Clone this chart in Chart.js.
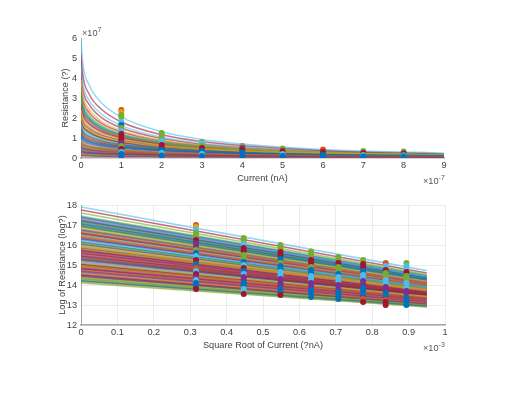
<!DOCTYPE html>
<html><head><meta charset="utf-8">
<style>
html,body{margin:0;padding:0;background:#fff;width:512px;height:395px;overflow:hidden}
canvas{position:absolute;left:0;filter:blur(0.35px)}
.e{position:absolute;font:9.2px "Liberation Sans",Arial,sans-serif;color:#555;white-space:nowrap;line-height:10px}
.e sup{font-size:7px;position:relative;top:-4px;vertical-align:baseline}
</style>
<script src="https://cdn.jsdelivr.net/npm/chart.js@4"></script>
</head><body>
<canvas id="a" width="512" height="184" style="top:0"></canvas>
<canvas id="b" width="512" height="161" style="top:190px"></canvas>
<div class="e" style="left:82px;top:28px">×10<sup>7</sup></div>
<div class="e" style="left:423px;top:176px">×10<sup>-7</sup></div>
<div class="e" style="left:423px;top:343px">×10<sup>-3</sup></div>
<script>
const seriesColors=['#0072BD','#D95319','#D9A520','#7E2F8E','#77AC30','#4DBEEE','#A2142F'];
const currentTicks=[0,1,2,3,4,5,6,7,8,9];
const sqrtTicks=[0,0.1,0.2,0.3,0.4,0.5,0.6,0.7,0.8,0.9,1];
const currentKnots=[0,0.05,0.2,0.5,1,2,3,4,6,9];
const sqrtEnds=[0,0.95];
const resistanceCurves=[
[1.25,1.06,.88,.72,.57,.4,.3,.24,.17,.12],[.8,.69,.59,.49,.39,.29,.22,.18,.13,.1],[2.4,1.95,1.58,1.24,.95,.64,.47,.36,.24,.15],
[.34,.3,.26,.22,.19,.15,.12,.1,.08,.06],[3.4,2.72,2.15,1.64,1.22,.8,.58,.44,.28,.17],[5.9,4.65,3.66,2.77,2.04,1.31,.93,.7,.43,.24],
[5.2,4.1,3.2,2.45,1.8,1.16,.82,.62,.38,.21],[1.55,1.3,1.08,.87,.68,.47,.35,.28,.19,.13],[.62,.54,.46,.38,.31,.23,.18,.15,.11,.08],
[3.9,3.1,2.44,1.85,1.37,.89,.64,.48,.3,.18],[.14,.13,.12,.1,.09,.08,.07,.06,.05,.04],[3,2.42,1.93,1.48,1.12,.74,.54,.41,.26,.16],
[4.7,3.7,2.9,2.2,1.62,1.04,.74,.56,.34,.2],[4.3,3.4,2.68,2.03,1.5,.97,.69,.52,.32,.19],[1.12,.95,.8,.65,.52,.37,.28,.22,.16,.11],
[.46,.4,.35,.3,.25,.19,.15,.12,.09,.07],[2.1,1.72,1.4,1.1,.85,.58,.43,.33,.22,.14],[2.7,2.18,1.75,1.35,1.02,.68,.5,.38,.25,.16],
[.23,.2,.18,.16,.14,.11,.09,.08,.065,.05],[.9,.77,.65,.54,.43,.31,.24,.19,.14,.1],[1.9,1.56,1.28,1.01,.78,.54,.4,.31,.21,.13],
[.54,.47,.41,.34,.28,.21,.16,.13,.1,.075],[1.4,1.18,.98,.79,.62,.43,.33,.26,.18,.12],[.18,.16,.15,.13,.12,.095,.08,.07,.06,.045],
[1,.85,.72,.59,.47,.34,.26,.21,.15,.11],[.7,.6,.52,.43,.35,.26,.2,.16,.12,.09],[1.7,1.41,1.17,.93,.72,.5,.37,.29,.2,.13],
[.28,.25,.22,.19,.16,.13,.1,.09,.07,.055],[.4,.35,.31,.26,.22,.17,.13,.11,.085,.065],[1.32,1.1,.92,.75,.6,.42,.31,.25,.18,.12],
[.95,.8,.68,.56,.45,.33,.25,.2,.145,.1],[.58,.5,.43,.36,.3,.22,.17,.14,.105,.08],[.2,.18,.16,.14,.125,.1,.085,.075,.06,.05],
[1.05,.9,.76,.62,.5,.36,.27,.22,.155,.11],[.75,.65,.55,.46,.37,.27,.21,.17,.125,.09],[.37,.32,.28,.24,.2,.16,.125,.105,.08,.06],
[1.48,1.24,1.03,.83,.65,.45,.34,.27,.185,.125],[.85,.73,.62,.51,.41,.3,.23,.185,.135,.1],[.5,.44,.38,.32,.265,.2,.155,.125,.095,.07],
[.26,.23,.2,.175,.15,.12,.095,.085,.068,.052],[.66,.57,.49,.41,.33,.245,.19,.155,.115,.085],[.12,.11,.1,.09,.08,.07,.06,.055,.045,.035],
[3.2,2.58,2.05,1.57,1.18,.78,.57,.43,.27,.165],[2.85,2.3,1.85,1.42,1.07,.71,.52,.39,.25,.16],[2.55,2.06,1.66,1.29,.98,.66,.48,.37,.24,.15],
[2.25,1.84,1.5,1.17,.9,.61,.45,.34,.23,.145],[2,1.64,1.34,1.05,.81,.56,.41,.32,.215,.135],[1.8,1.48,1.22,.97,.75,.52,.385,.3,.205,.13],
[3.6,2.88,2.28,1.74,1.3,.85,.61,.46,.29,.17],[2.95,2.38,1.9,1.46,1.1,.73,.53,.4,.26,.16],[2.15,1.76,1.43,1.13,.87,.59,.44,.335,.22,.14],
[1.62,1.35,1.12,.9,.7,.48,.36,.285,.195,.13],[2.6,2.1,1.7,1.32,1,.67,.49,.375,.245,.155],[1.95,1.6,1.31,1.03,.8,.55,.405,.315,.21,.135],
[1.36,1.14,.95,.77,.61,.42,.32,.255,.18,.12],[1.16,.98,.83,.67,.54,.38,.29,.23,.165,.115],[3.05,2.46,1.96,1.5,1.14,.75,.55,.42,.265,.16]
];
const logStart=[17.05,16.75,15.1,14.45,17.6,17.9,17.75,16.95,16.4,15.8,14.85,16.1,17.3,15.45,
14.2,16.6,15.95,14.65,17.15,16.25,15.25,17.4,14.95,16.85,15.6,14.3,16.5,15.05,
16.15,14.55,17.0,15.7,14.1,16.7,15.35,17.2,14.75,15.9,16.3,14.4,15.15,16.55,17.1,15.55,
14.9,16.05,14.25,16.8,15.75,15.3,16.45,14.6,17.25,15.0,16.2,14.8,15.85,16.65,14.35,15.5,
16.9,15.2,14.5,16.35,15.65,14.15,17.35,15.4,16.0,14.7,16.75,15.8,14.95,16.6,
17.45,15.12,16.28,14.52,15.92,16.98,14.82,16.12,15.28,17.18,14.32,15.72,16.48,15.02,16.78,14.62,
15.58,17.02,14.22,16.38,15.42,16.92,14.72,15.82,16.58,15.18,17.28,14.42,16.02,15.68,16.72,14.92];
const logEnd=[14.3,14.12,13.42,13.05,14.52,14.72,14.6,14.25,13.98,13.72,13.3,13.85,14.42,13.58,
12.95,14.08,13.8,13.15,14.3,13.92,13.48,14.45,13.35,14.2,13.66,13.0,14.02,13.38,
13.88,13.1,14.28,13.7,12.9,14.12,13.52,14.35,13.22,13.75,13.95,13.08,13.45,14.05,14.28,13.62,
13.32,13.82,12.98,14.18,13.68,13.5,14.0,13.12,14.38,13.36,13.9,13.25,13.78,14.1,13.02,13.6,
14.22,13.44,13.06,13.96,13.64,12.92,14.4,13.54,13.84,13.18,14.15,13.72,13.34,14.06,
14.48,13.4,13.94,13.04,13.78,14.26,13.28,13.86,13.46,14.34,13.0,13.7,14.02,13.37,14.16,13.14,
13.62,14.27,12.94,13.97,13.53,14.23,13.2,13.76,14.07,13.43,14.39,13.07,13.83,13.67,14.13,13.33];
const resX=[1,2,3,4,5,6,7,8];
const resVals=[
[2.4,2.3,2.15,2.05,1.8,1.65,1.5,1.35,1.2,1.05,.9,.75,.6,.45,.3,.2,.1],
[1.25,1.1,.95,.85,.65,.5,.4,.25,.12],
[.8,.72,.6,.5,.35,.2,.1],
[.6,.5,.4,.27,.12],
[.48,.35,.2,.1],
[.42,.3,.18,.08],
[.35,.25,.15,.08],
[.33,.23,.14,.07]];
const resCols=[
[1,2,4,4,5,0,4,5,6,6,6,3,4,6,5,0,0],
[4,4,4,5,6,6,0,5,0],
[4,5,4,6,0,5,0],
[4,3,6,0,0],
[4,6,5,0],
[1,6,0,0],
[4,6,5,0],
[4,6,5,0]];
const rootX=[.316,.447,.548,.632,.707,.775,.837,.894];
const logVals=[
[17,16.9,16.75,16.6,16.45,16.25,16.1,15.95,15.75,15.6,15.45,15.25,15.05,14.85,14.7,14.55,14.4,14.25,14.1,13.95,13.8],
[16.35,16.2,16.05,15.85,15.7,15.5,15.35,15.15,15,14.85,14.7,14.55,14.4,14.25,14.1,13.95,13.8,13.65,13.55],
[16,15.85,15.65,15.47,15.3,15.1,14.95,14.8,14.65,14.45,14.3,14.1,13.95,13.8,13.65,13.5],
[15.67,15.5,15.25,15.1,14.9,14.75,14.6,14.45,14.3,14.1,13.9,13.75,13.6,13.4],
[15.4,15.25,15.1,14.9,14.7,14.55,14.4,14.2,14,13.8,13.65,13.5,13.3],
[15.25,15.05,14.9,14.7,14.5,14.35,14.2,14,13.85,13.7,13.45,13.3,13.15],
[15.1,14.95,14.75,14.6,14.45,14.25,14.05,13.9,13.75,13.6,13.4,13.25,13.15,13],
[15.1,14.95,14.85,14.65,14.45,14.3,14.1,13.85,13.7,13.6,13.35,13.2,13]];
const logCols=[
[1,2,5,4,4,6,3,3,4,0,5,6,0,1,5,6,3,5,0,0,6],
[4,4,5,6,6,4,4,0,5,6,0,5,3,3,0,0,5,5,6],
[4,4,6,6,0,4,0,0,5,5,3,3,3,0,0,6],
[4,4,6,6,4,0,0,5,5,3,3,0,0,0],
[4,4,6,4,4,0,5,5,3,3,0,0,0],
[4,6,6,0,5,5,3,3,0,0,0,1,6],
[1,5,6,4,4,5,5,3,3,0,0,1,6,6],
[4,5,5,6,4,4,5,5,3,3,0,0,0]];
const rgba=(h,a)=>{const n=parseInt(h.slice(1),16);return `rgba(${n>>16},${n>>8&255},${n&255},${a})`};
const font=9.2, fam='"Liberation Sans",Arial,sans-serif', txt='#404040';
function markerSets(xs,vals,cols){return xs.map((x,i)=>({type:'scatter',order:0,showLine:false,
  data:vals[i].map(v=>({x,y:v})),
  pointRadius:3,pointBorderWidth:0,
  pointBackgroundColor:cols[i].map(c=>seriesColors[c])}));}
function lineSets(xs,rows,w,a){return rows.map((r,i)=>({type:'line',order:1,
  data:r.map((v,k)=>({x:xs[k],y:v})),
  borderColor:rgba(seriesColors[i%7],a),borderWidth:w,pointRadius:0,
  cubicInterpolationMode:'monotone',fill:false}));}
function opts(cfg){return{responsive:false,animation:false,events:[],
 layout:{padding:{left:cfg.left,right:cfg.right,top:cfg.top,bottom:0}},
 plugins:{legend:{display:false},tooltip:{enabled:false}},
 scales:{
  x:{type:'linear',min:cfg.x[0],max:cfg.x[cfg.x.length-1],afterBuildTicks:s=>{s.ticks=cfg.x.map(v=>({value:v}));},
     afterFit:s=>{s.height=cfg.xh;},
     border:{color:'#a8a8a8',width:1.5},
     grid:{display:cfg.grid,color:'#ececec',drawTicks:false},
     ticks:{color:txt,font:{family:fam,size:font},maxRotation:0,padding:2,autoSkip:false,callback:v=>String(v)},
     title:{display:true,text:cfg.xt,color:txt,font:{family:fam,size:font},padding:{top:1,bottom:0}}},
  y:{type:'linear',min:cfg.y[0],max:cfg.y[cfg.y.length-1],afterBuildTicks:s=>{s.ticks=cfg.y.map(v=>({value:v}));},
     afterFit:s=>{s.width=81-cfg.left;},
     border:{color:'#a8a8a8',width:1},
     grid:{display:cfg.grid,color:'#ececec',drawTicks:false},
     ticks:{color:txt,font:{family:fam,size:font},padding:4,autoSkip:false,callback:v=>String(v)},
     title:{display:true,text:cfg.yt,color:txt,font:{family:fam,size:font},padding:{top:0,bottom:1}}}
 }};}
new Chart(document.getElementById('a'),{data:{datasets:[
  ...markerSets(resX,resVals,resCols),
  ...lineSets(currentKnots,resistanceCurves,1.5,.6)]},
 options:opts({left:60,right:68,top:38,x:currentTicks,y:[0,1,2,3,4,5,6],xh:26,grid:false,xt:'Current (nA)',yt:'Resistance (?)'})});
new Chart(document.getElementById('b'),{data:{datasets:[
  ...markerSets(rootX,logVals,logCols),
  ...lineSets(sqrtEnds,logStart.map((s,i)=>[s,logEnd[i]]),1.7,.62)]},
 options:opts({left:57,right:67,top:15,x:sqrtTicks,y:[12,13,14,15,16,17,18],xh:26,grid:true,xt:'Square Root of Current (?nA)',yt:'Log of Resistance (log?)'})});
</script>
</body></html>
